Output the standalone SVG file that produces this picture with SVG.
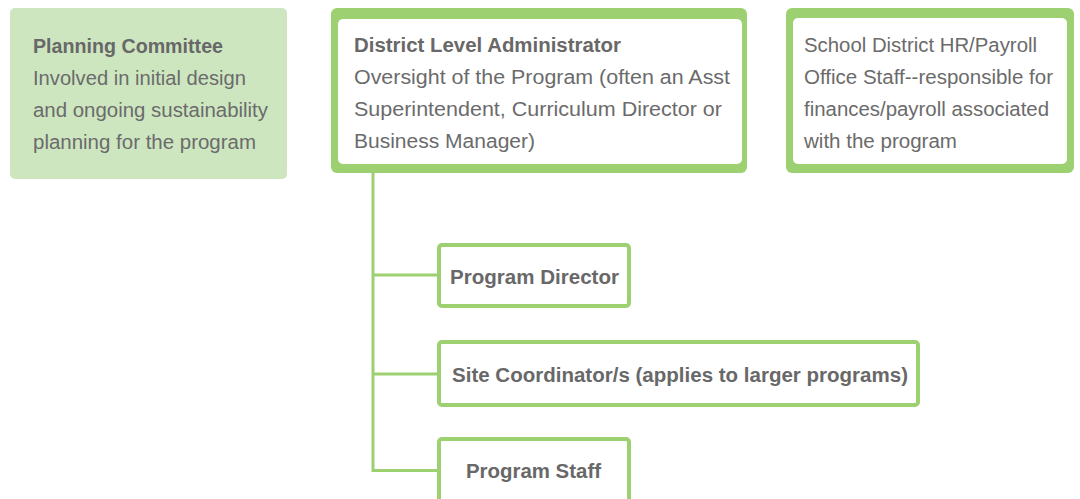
<svg xmlns="http://www.w3.org/2000/svg" width="1080" height="499" viewBox="0 0 1080 499">
<style>
text{font-family:"Liberation Sans",Arial,Helvetica,sans-serif;font-size:20px;fill:#6b6b6b}
.b{font-weight:bold;fill:#686868;font-size:19.5px}
.outer{fill:#9dd070}
.inner{fill:#ffffff}
.box{fill:#ffffff;stroke:#9dd070;stroke-width:4}
.conn{fill:none;stroke:#9dd070;stroke-width:3}
</style>
<rect width="1080" height="499" fill="#ffffff"/>
<g id="connectors">
<path class="conn" d="M373 173 V470.5 H439"/>
<path class="conn" d="M373 275 H439"/>
<path class="conn" d="M373 374 H439"/>
</g>
<g id="planning-committee">
<rect x="10" y="8" width="277" height="171" rx="5" fill="#cde6c0"/>
<text x="33" y="53" class="b" textLength="190" lengthAdjust="spacingAndGlyphs">Planning Committee</text>
<text x="33" y="85" textLength="213" lengthAdjust="spacingAndGlyphs">Involved in initial design</text>
<text x="33" y="117" textLength="235" lengthAdjust="spacingAndGlyphs">and ongoing sustainability</text>
<text x="33" y="149" textLength="223" lengthAdjust="spacingAndGlyphs">planning for the program</text>
</g>
<g id="district-admin">
<rect class="outer" x="331" y="8" width="416" height="165" rx="6"/>
<rect class="inner" x="338" y="19" width="404" height="145" rx="5"/>
<text x="354" y="52" class="b" textLength="267" lengthAdjust="spacingAndGlyphs">District Level Administrator</text>
<text x="354" y="84" textLength="376" lengthAdjust="spacingAndGlyphs">Oversight of the Program (often an Asst</text>
<text x="354" y="116" textLength="368" lengthAdjust="spacingAndGlyphs">Superintendent, Curriculum Director or</text>
<text x="354" y="148" textLength="181" lengthAdjust="spacingAndGlyphs">Business Manager)</text>
</g>
<g id="hr-payroll">
<rect class="outer" x="786" y="8" width="288" height="165" rx="6"/>
<rect class="inner" x="793" y="18" width="274" height="146" rx="5"/>
<text x="804" y="52" textLength="233" lengthAdjust="spacingAndGlyphs">School District HR/Payroll</text>
<text x="804" y="84" textLength="249" lengthAdjust="spacingAndGlyphs">Office Staff--responsible for</text>
<text x="804" y="116" textLength="245" lengthAdjust="spacingAndGlyphs">finances/payroll associated</text>
<text x="804" y="148" textLength="153" lengthAdjust="spacingAndGlyphs">with the program</text>
</g>
<g id="program-director">
<rect class="box" x="439" y="245" width="190" height="61" rx="3"/>
<text x="450" y="284" class="b" textLength="169" lengthAdjust="spacingAndGlyphs">Program Director</text>
</g>
<g id="site-coordinator">
<rect class="box" x="439" y="342" width="479" height="63" rx="3"/>
<text x="452" y="382" class="b" textLength="456" lengthAdjust="spacingAndGlyphs">Site Coordinator/s (applies to larger programs)</text>
</g>
<g id="program-staff">
<rect class="box" x="439" y="439" width="190" height="70" rx="3"/>
<text x="466" y="478" class="b" textLength="135" lengthAdjust="spacingAndGlyphs">Program Staff</text>
</g>
</svg>
